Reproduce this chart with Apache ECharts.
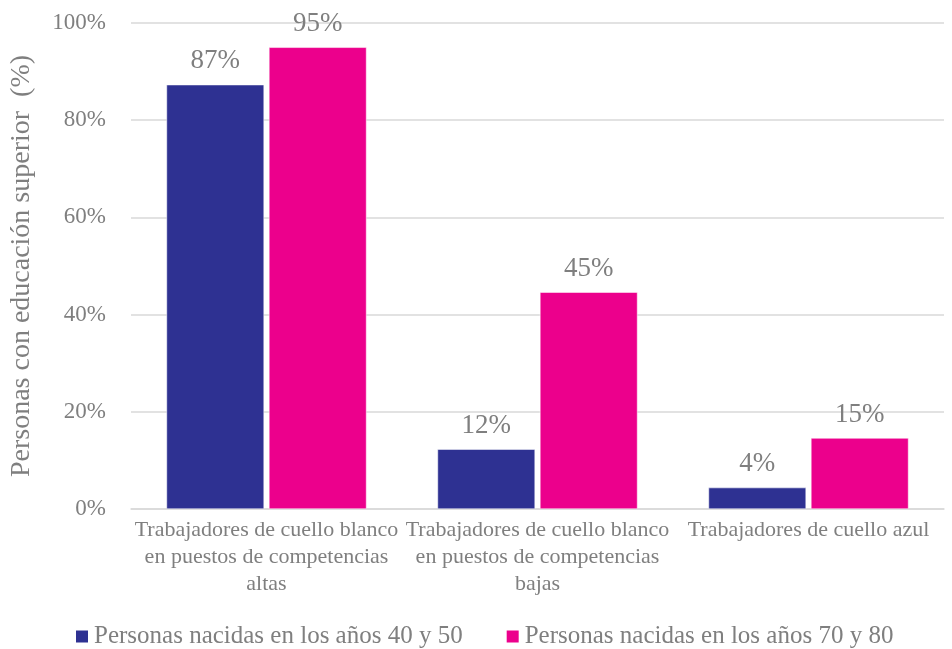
<!DOCTYPE html>
<html>
<head>
<meta charset="utf-8">
<script src="https://cdn.jsdelivr.net/npm/echarts@6/dist/echarts.min.js"></script>
<style>
html,body{margin:0;padding:0;background:#fff;}
#Echarts1{width:952px;height:649px;}
</style>
</head>
<body>
<div id="Echarts1"></div>
<script>
'use strict';
var categories = [
    'Trabajadores de cuello blanco\nen puestos de competencias\naltas',
    'Trabajadores de cuello blanco\nen puestos de competencias\nbajas',
    'Trabajadores de cuello azul'
];
var seriesNames = ['Personas nacidas en los años 40 y 50', 'Personas nacidas en los años 70 y 80'];
var values4050 = [87.3, 12.3, 4.4];
var values7080 = [95.0, 44.6, 14.6];
var yTicks = [0, 20, 40, 60, 80, 100];

var myChart1 = echarts.init(document.getElementById('Echarts1'));
var fontFam = 'Liberation Serif';
var grey = '#7f7f7f';

function barLabel() {
    return {
        show: true,
        position: 'top',
        distance: 10,
        color: grey,
        fontFamily: fontFam,
        fontSize: 27,
        formatter: function (p) { return Math.round(p.value) + '%'; }
    };
}

var option = {
    color: ['#2e3192', '#ec008c'],
    textStyle: {fontFamily: fontFam},
    legend: {
        bottom: 0,
        left: 74,
        padding: 0,
        itemWidth: 14,
        itemHeight: 14,
        itemGap: 42,
        icon: 'rect',
        selectedMode: false,
        textStyle: {color: grey, fontSize: 25, fontFamily: fontFam},
        data: seriesNames
    },
    grid: {
        left: 131,
        right: 8,
        top: 23,
        bottom: 140
    },
    xAxis: {
        type: 'category',
        data: categories,
        axisTick: {show: false},
        axisLine: {lineStyle: {color: '#d9d9d9', width: 1.5}},
        axisLabel: {
            color: grey,
            fontSize: 22,
            lineHeight: 27,
            margin: 8,
            interval: 0,
            fontFamily: fontFam
        }
    },
    yAxis: {
        type: 'value',
        min: yTicks[0],
        max: yTicks[yTicks.length - 1],
        interval: yTicks[1] - yTicks[0],
        name: 'Personas con educación superior  (%)',
        nameLocation: 'middle',
        nameGap: 95,
        nameTextStyle: {color: grey, fontSize: 28, fontFamily: fontFam},
        axisLine: {show: false},
        axisTick: {show: false},
        splitLine: {lineStyle: {color: '#d9d9d9', width: 1.5}},
        axisLabel: {
            color: grey,
            fontSize: 23,
            margin: 25,
            fontFamily: fontFam,
            formatter: '{value}%'
        }
    },
    series: [
        {
            name: seriesNames[0],
            type: 'bar',
            barWidth: '36%',
            barGap: '5%',
            itemStyle: {borderColor: '#fff', borderWidth: 0.5},
            label: barLabel(),
            data: values4050
        },
        {
            name: seriesNames[1],
            type: 'bar',
            barWidth: '36%',
            barGap: '5%',
            itemStyle: {borderColor: '#fff', borderWidth: 0.5},
            label: barLabel(),
            data: values7080
        }
    ]
};
myChart1.setOption(option);
</script>
</body>
</html>
